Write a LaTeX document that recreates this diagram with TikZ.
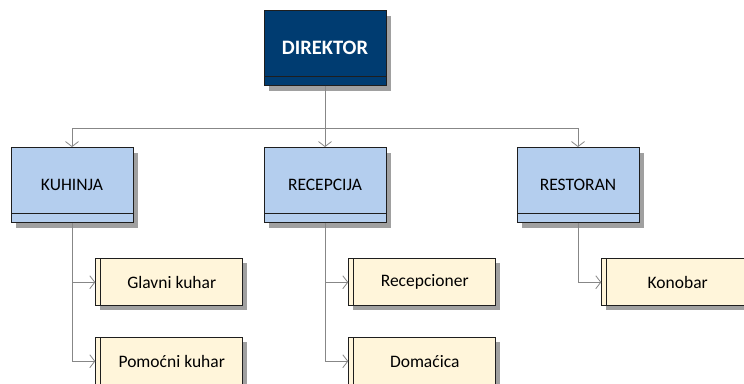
\documentclass[tikz,border=0pt]{standalone}
\usepackage{fontspec}
\setmainfont{Carlito}
\usetikzlibrary{arrows.meta,shadows}
\definecolor{navy}{RGB}{0,60,113}
\definecolor{deptblue}{RGB}{180,206,238}
\definecolor{rolecream}{RGB}{255,245,218}
\definecolor{boxline}{RGB}{30,30,30}
\definecolor{shade}{RGB}{160,160,160}
\definecolor{linkgray}{RGB}{135,135,135}

\begin{document}
\begin{tikzpicture}[x=1pt, y=-1pt, node distance=137pt, auto]
  \tikzstyle{unit}=[rectangle, draw=boxline, line width=0.9pt, minimum width=122pt, minimum height=75pt, drop shadow={shadow xshift=5pt, shadow yshift=-5pt, fill=shade, opacity=1}, font=\fontsize{17.5}{21}\selectfont, path picture={\draw[boxline, line width=0.9pt] ([yshift=9pt]path picture bounding box.south west) -- ([yshift=9pt]path picture bounding box.south east);}]
  \tikzstyle{head}=[unit, fill=navy, text=white, font=\bfseries\fontsize{20.5}{24}\selectfont]
  \tikzstyle{dept}=[unit, fill=deptblue]
  \tikzstyle{role}=[rectangle, draw=boxline, line width=0.9pt, fill=rolecream, minimum width=147pt, minimum height=47pt, drop shadow={shadow xshift=4pt, shadow yshift=-4pt, fill=shade, opacity=1}, font=\fontsize{17.5}{21}\selectfont, execute at begin node={\hspace*{5pt}}, path picture={\draw[boxline, line width=0.9pt] ([xshift=5pt]path picture bounding box.south west) -- ([xshift=5pt]path picture bounding box.north west);}]
  \tikzstyle{link}=[draw=linkgray, line width=0.8pt, -{Straight Barb[length=5pt, width=13pt]}]
  \useasboundingbox (0,0) rectangle (744,383);
  \node[head] (direktor) at (325,48) {DIREKTOR};
  \node[dept, below of=direktor] (recepcija) {RECEPCIJA};
  \node[dept, left of=recepcija, node distance=253pt] (kuhinja) {KUHINJA};
  \node[dept, right of=recepcija, node distance=253pt] (restoran) {RESTORAN};
  \node[role, below right of=kuhinja, node distance=137.5pt] (glavni) {Glavni kuhar};
  \node[role, below of=glavni, node distance=79pt] (pomocni) {Pomoćni kuhar};
  \node[role, below right of=recepcija, node distance=137.5pt] (recepcioner) {Recepcioner};
  \node[role, below of=recepcioner, node distance=79pt] (domacica) {Domaćica};
  \node[role, below right of=restoran, node distance=137.5pt] (konobar) {Konobar};
  \coordinate (bus) at ([yshift=-42pt]direktor.south);
  \draw[link] (direktor.south) -- (bus) -| (kuhinja.north);
  \draw[link] (direktor.south) -- (recepcija.north);
  \draw[link] (direktor.south) -- (bus) -| (restoran.north);
  \draw[link] (kuhinja.south) |- (glavni.west);
  \draw[link] (kuhinja.south) |- (pomocni.west);
  \draw[link] (recepcija.south) |- (recepcioner.west);
  \draw[link] (recepcija.south) |- (domacica.west);
  \draw[link] (restoran.south) |- (konobar.west);
\end{tikzpicture}
\end{document}
